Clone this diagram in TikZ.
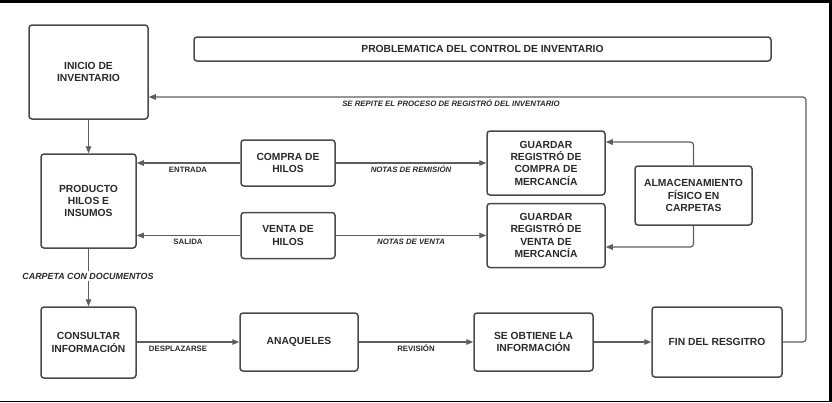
\documentclass[tikz,border=0pt]{standalone}
\usepackage{fontspec}
\setmainfont{Liberation Sans}
\usetikzlibrary{arrows.meta,positioning,calc}
\definecolor{boxline}{HTML}{4A4A4A}
\definecolor{arrowline}{HTML}{5E5E5E}
\definecolor{txt}{HTML}{2A2A2A}
\tikzset{
  box/.style={draw=boxline, line width=1.5pt, rounded corners=3pt, align=center,
    inner sep=0pt, text=txt, font=\bfseries\fontsize{10.3}{12.3}\selectfont},
  conn/.style={draw=arrowline, line width=1.2pt, -{Triangle[length=7pt,width=5.5pt]}},
  lbl/.style={text=txt, font=\bfseries\fontsize{7.8}{8.5}\selectfont, inner sep=1pt},
  ilbl/.style={text=txt, font=\bfseries\itshape\fontsize{7.8}{8.5}\selectfont, inner sep=1pt},
}
\begin{document}
\begin{tikzpicture}[x=1pt,y=-1pt]
\useasboundingbox (0,0) rectangle (832,402);
\fill[black] (0,0) rectangle (832,402);
\fill[white] (0,3) rectangle (829,400.5);

\node[box, minimum width=119pt, minimum height=94pt] (inicio) at (88.5,72) {INICIO DE\\INVENTARIO};
\node[box, minimum width=577pt, minimum height=24pt, font=\bfseries\fontsize{10.3}{12}\selectfont] (title) at (482.5,49) {PROBLEMATICA DEL CONTROL DE INVENTARIO};
\node[box, minimum width=95pt, minimum height=94pt] (producto) at (88.5,201) {PRODUCTO\\HILOS E\\INSUMOS};
\node[box, minimum width=94pt, minimum height=46pt] (compra) at (288,163) {COMPRA DE\\HILOS};
\node[box, minimum width=94pt, minimum height=46pt] (venta) at (288,235.5) {VENTA DE\\HILOS};
\node[box, minimum width=118pt, minimum height=64pt] (gcompra) at (546,163) {GUARDAR\\REGISTRÓ DE\\COMPRA DE\\MERCANCÍA};
\node[box, minimum width=118pt, minimum height=64pt] (gventa) at (546,235.5) {GUARDAR\\REGISTRÓ DE\\VENTA DE\\MERCANCÍA};
\node[box, minimum width=117pt, minimum height=59pt] (alma) at (693.5,195.5) {ALMACENAMIENTO\\FÍSICO EN\\CARPETAS};
\node[box, minimum width=95pt, minimum height=71pt] (consultar) at (88.5,342.5) {CONSULTAR\\INFORMACIÓN};
\node[box, minimum width=118pt, minimum height=58pt] (anaqueles) at (299,342) {ANAQUELES};
\node[box, minimum width=119pt, minimum height=58pt] (obtiene) at (533.5,342) {SE OBTIENE LA\\INFORMACIÓN};
\node[box, minimum width=130pt, minimum height=70pt] (fin) at (717,342) {FIN DEL RESGITRO};

% feedback loop
\coordinate (fbA) at (806,342);
\coordinate (fbB) at (806,97);
\draw[conn, rounded corners=3pt] (fin.east) -- (fbA) -- (fbB) -- (inicio.east |- fbB);
\node[ilbl] (lrepite) at (451,103.5) {SE REPITE EL PROCESO DE REGISTRÓ DEL INVENTARIO};

\draw[conn] (inicio.south) -- (producto.north);

\draw[conn] (compra.west) -- (compra.west -| producto.east);
\node[lbl] (lentrada) at (188,169.5) {ENTRADA};
\draw[conn] (venta.west) -- (venta.west -| producto.east);
\node[lbl] (lsalida) at (188,241.5) {SALIDA};

\draw[conn] (compra.east) -- (compra.east -| gcompra.west);
\node[ilbl] (lremision) at (411,169.5) {NOTAS DE REMISIÓN};
\draw[conn] (venta.east) -- (venta.east -| gventa.west);
\node[ilbl] (lventa) at (411,241.5) {NOTAS DE VENTA};

\draw[conn, rounded corners=3pt] (alma.north) |- ([yshift=21pt]gcompra.east);
\draw[conn, rounded corners=3pt] (alma.south) |- ([yshift=-11.5pt]gventa.east);

\draw[conn] (producto.south) -- (consultar.north);
\node[ilbl, fill=white, inner sep=1.5pt, font=\bfseries\itshape\fontsize{8.9}{10}\selectfont] (lcarpeta) at (88,276) {CARPETA CON DOCUMENTOS};

\draw[conn] (consultar.east |- anaqueles.west) -- (anaqueles.west);
\node[lbl] (ldesp) at (178,348.5) {DESPLAZARSE};
\draw[conn] (anaqueles.east) -- (obtiene.west);
\node[lbl] (lrev) at (416,348.5) {REVISIÓN};
\draw[conn] (obtiene.east) -- (obtiene.east -| fin.west);
\end{tikzpicture}
\end{document}
